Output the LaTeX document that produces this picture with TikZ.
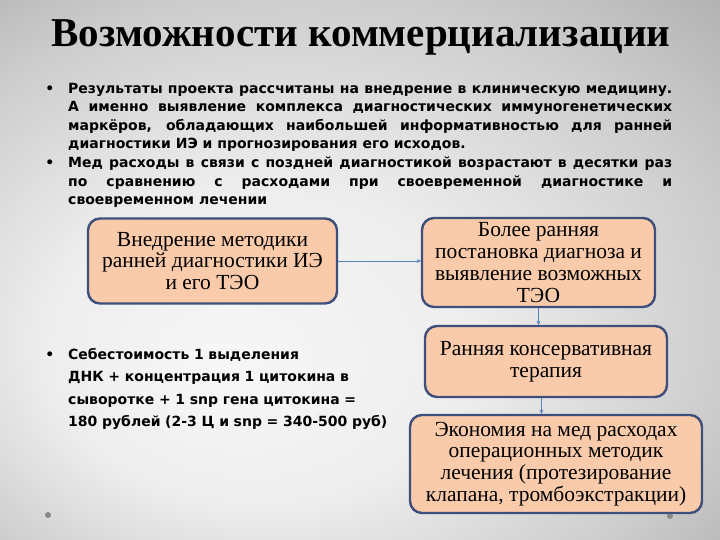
\documentclass[tikz,border=0pt]{standalone}
\usepackage{fontspec}
\setmainfont{Liberation Serif}
\newfontfamily\gothic{DejaVu Sans}
\usetikzlibrary{arrows.meta,positioning,calc}

\definecolor{peach}{HTML}{F9CBAB}
\definecolor{boxline}{HTML}{3E4F7C}
\definecolor{flowblue}{HTML}{5A82B8}
\definecolor{dotgray}{HTML}{8A8A8A}

\pgfdeclareradialshading{slidebg}{\pgfpoint{-10bp}{-10bp}}{%
  color(0bp)=(white!97!black); color(15bp)=(white!93!black);
  color(30bp)=(white!80!black); color(42bp)=(white!66!black);
  color(50bp)=(white!58!black)}

\tikzset{
  stepbox/.style={draw=boxline, line width=2.4pt, fill=peach, rounded corners=12pt,
    align=center, inner sep=2pt, font=\fontsize{21.5}{21.8}\selectfont},
  flow/.style={draw=flowblue, line width=0.9pt, -{Stealth[length=4pt,width=4pt]}},
  itemtext/.style={anchor=north west, inner sep=0pt, text width=604pt, align=justify,
    font=\gothic\bfseries\fontsize{14}{18.5}\selectfont},
}

\begin{document}
\begin{tikzpicture}[x=1pt, y=-1pt]

    % background
    \shade[shading=slidebg] (0,0) rectangle (720,540);
    \useasboundingbox (0,0) rectangle (720,540);

    % title
    \node (title) at (361,37) {\fontsize{41}{43}\selectfont\bfseries Возможности коммерциализации};

    % bullets
    \node[itemtext] (item1) at (68,83) {\llap{•\hspace{14pt}}Результаты проекта рассчитаны на внедрение в клиническую медицину.\linebreak
        А именно выявление комплекса диагностических иммуногенетических\linebreak
        маркёров, обладающих наибольшей информативностью для ранней\linebreak
        диагностики ИЭ и прогнозирования его исходов.};
    \node[itemtext] (item2) at (68,157) {\llap{•\hspace{14pt}}Мед расходы в связи с поздней диагностикой возрастают в десятки раз\linebreak
        по сравнению с расходами при своевременной диагностике и\linebreak
        своевременном лечении};
    \node[itemtext, text width=330pt, align=left, font=\gothic\bfseries\fontsize{14}{22.4}\selectfont] (item3) at (68,348)
        {\llap{•\hspace{14pt}}Себестоимость 1 выделения\\
        ДНК + концентрация 1 цитокина в\\
        сыворотке + 1 snp гена цитокина =\\
        180 рублей (2-3 Ц и snp = 340-500 руб)};

    % slide dots (behind the boxes)
    \fill[dotgray] (48,515) circle (3pt);
    \fill[dotgray] (670,516) circle (3pt);

    % boxes
    \node[stepbox, minimum width=249pt, minimum height=85pt] (intro) at (212.5,261)
        {Внедрение методики\\ранней диагностики ИЭ\\и его ТЭО};
    \node[stepbox, minimum width=233pt, minimum height=89pt] (early) at (538.5,262.5)
        {Более ранняя\\постановка диагноза и\\выявление возможных\\ТЭО};
    \node[stepbox, minimum width=242pt, minimum height=71pt] (therapy) at (546,361.5)
        {Ранняя консервативная\\терапия};
    \node[stepbox, minimum width=292pt, minimum height=98pt] (saving) at (556,464)
        {Экономия на мед расходах\\операционных методик\\лечения (протезирование\\клапана, тромбоэкстракции)};

    \draw[flow] (intro.east) -- (intro.east -| early.west);
    \draw[flow] (early.south) -- (early.south |- therapy.north);
    \draw[flow] ($(therapy.south -| early.south)+(3pt,0)$) -- ($(early.south |- saving.north)+(3pt,0)$);

\end{tikzpicture}
\end{document}
